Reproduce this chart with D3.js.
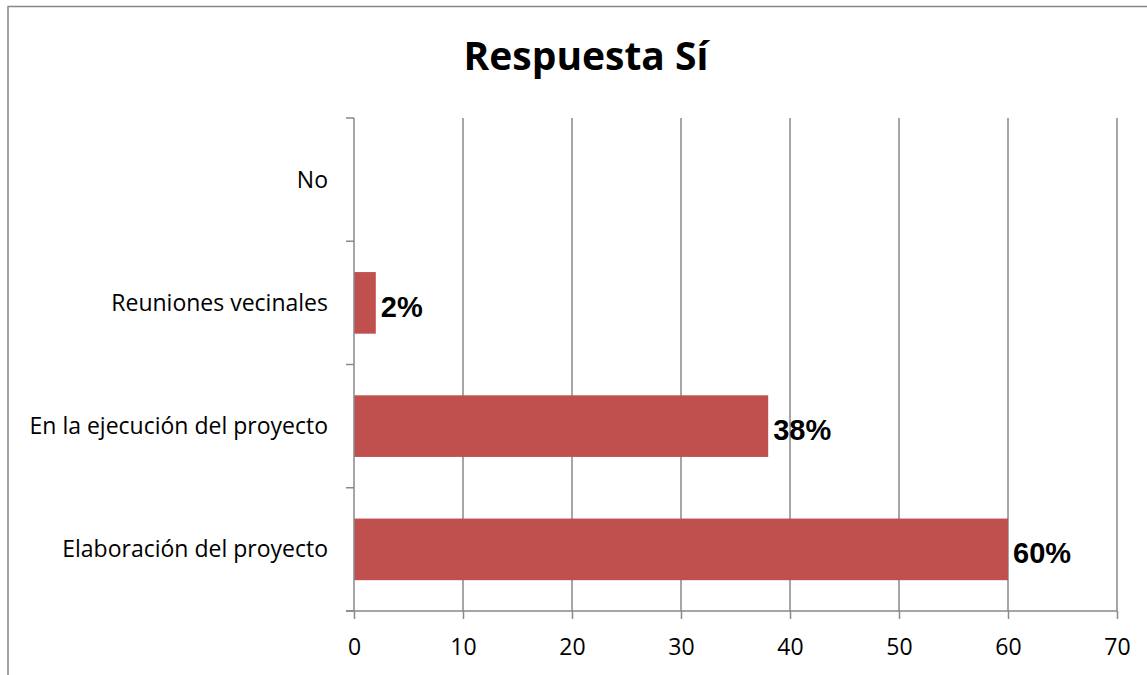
<!DOCTYPE html>
<html>
<head>
<meta charset="utf-8">
<script src="https://cdn.jsdelivr.net/npm/d3@7.9.0/dist/d3.min.js"></script>
<style>
  body { margin: 0; background: #fff; }
  svg { display: block; }
</style>
</head>
<body>
<svg id="chart" width="1147" height="675"></svg>
<script>
// categories from bottom to top, as in the picture
const categories = ['Elaboración del proyecto', 'En la ejecución del proyecto', 'Reuniones vecinales', 'No'];
const values = [60, 38, 2, null];
const labels = ['60%', '38%', '2%', ''];
const xTicks = [0, 10, 20, 30, 40, 50, 60, 70];

const svg = d3.select('#chart');
const plot = { left: 354, right: 1117, top: 118, bottom: 611 };
const labelFont = "'Open Sans', 'Noto Sans', sans-serif";

// outer chart frame (extends past the picture on the right and bottom)
svg.append('rect')
  .attr('x', 8).attr('y', 6.5)
  .attr('width', 1160).attr('height', 700)
  .attr('fill', 'none').attr('stroke', '#868686').attr('stroke-width', 1.5);

svg.append('text')
  .attr('x', 586).attr('y', 70)
  .attr('text-anchor', 'middle')
  .attr('font-family', labelFont)
  .attr('font-weight', 700)
  .attr('font-size', 39)
  .text('Respuesta Sí');

let x = d3.scaleLinear().domain([0, 70]).range([plot.left, plot.right]);
// reversed so the first category sits at the bottom
let y = d3.scaleBand().domain(categories.slice().reverse()).range([plot.top, plot.bottom]).paddingInner(0);

// vertical gridlines
svg.append('g').selectAll('line')
  .data(xTicks.slice(1))
  .join('line')
  .attr('x1', d => x(d)).attr('x2', d => x(d))
  .attr('y1', plot.top).attr('y2', plot.bottom)
  .attr('stroke', '#898989').attr('stroke-width', 1.5);

// bars
const barH = y.bandwidth() / 2;
categories.forEach((c, i) => {
  if (values[i] == null) return;
  let cy = y(c) + y.bandwidth() / 2;
  svg.append('rect')
    .attr('x', x(0)).attr('y', cy - barH / 2)
    .attr('width', x(values[i]) - x(0)).attr('height', barH)
    .attr('fill', '#C0504D');
  svg.append('text')
    .attr('x', x(values[i]) + 5).attr('y', cy + 14)
    .attr('font-family', "'Liberation Sans', Arial, sans-serif")
    .attr('font-weight', 700).attr('font-size', 29)
    .text(labels[i]);
});

// x axis
let xAxis = d3.axisBottom(x).tickValues(xTicks).tickSize(8).tickPadding(0);
let gx = svg.append('g').attr('transform', `translate(0,${plot.bottom})`).call(xAxis);
gx.select('.domain').remove();
gx.selectAll('.tick line').attr('stroke', '#898989').attr('stroke-width', 1.5);
gx.selectAll('.tick text')
  .attr('font-family', labelFont).attr('font-size', 23).attr('fill', '#000')
  .attr('dy', null).attr('y', 44);
svg.append('line')
  .attr('x1', plot.left - 8).attr('x2', plot.right)
  .attr('y1', plot.bottom).attr('y2', plot.bottom)
  .attr('stroke', '#898989').attr('stroke-width', 1.5);

// y axis with ticks at band edges
svg.append('line')
  .attr('x1', plot.left).attr('x2', plot.left)
  .attr('y1', plot.top).attr('y2', plot.bottom)
  .attr('stroke', '#898989').attr('stroke-width', 1.5);
let edges = categories.map(c => y(c)).concat([plot.bottom]);
svg.append('g').selectAll('line')
  .data(edges)
  .join('line')
  .attr('x1', plot.left - 8).attr('x2', plot.left)
  .attr('y1', d => d).attr('y2', d => d)
  .attr('stroke', '#898989').attr('stroke-width', 1.5);

svg.append('g').selectAll('text')
  .data(categories)
  .join('text')
  .attr('x', 328)
  .attr('y', d => y(d) + y.bandwidth() / 2 + 8)
  .attr('text-anchor', 'end')
  .attr('font-family', labelFont).attr('font-size', 23)
  .text(d => d);
</script>
</body>
</html>
